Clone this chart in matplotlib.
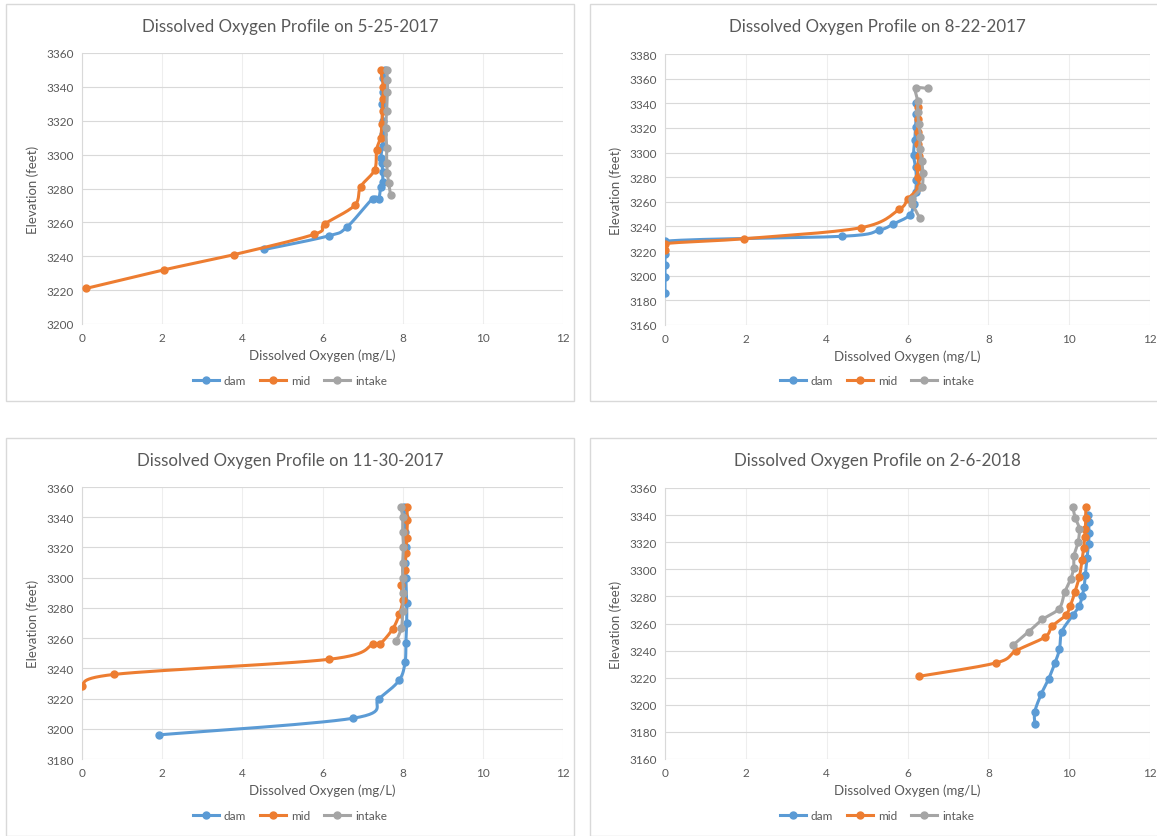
import numpy as np
from matplotlib import pyplot as plt
from matplotlib.patches import Rectangle

plt.rcParams['font.family'] = ['Lato', 'DejaVu Sans']

W, H = 1157, 837

#  ---------------------------------------  data  ---------------------------------------  #

titles = ["Dissolved Oxygen Profile on 5-25-2017", "Dissolved Oxygen Profile on 8-22-2017",
          "Dissolved Oxygen Profile on 11-30-2017", "Dissolved Oxygen Profile on 2-6-2018"]
series_names = ["dam", "mid", "intake"]

# 5-25-2017
dam1_elev = [3244, 3252, 3257, 3274, 3274, 3281, 3284, 3290, 3295, 3298, 3305, 3312, 3320, 3330, 3337, 3345, 3350]
dam1_do = [4.55, 6.15, 6.6, 7.25, 7.4, 7.45, 7.5, 7.5, 7.48, 7.45, 7.5, 7.52, 7.5, 7.48, 7.5, 7.52, 7.55]
mid1_elev = [3221, 3232, 3241, 3253, 3259, 3270, 3281, 3291, 3303, 3310, 3318, 3326, 3333, 3340, 3350]
mid1_do = [0.1, 2.05, 3.8, 5.8, 6.05, 6.8, 6.95, 7.3, 7.35, 7.45, 7.48, 7.5, 7.5, 7.52, 7.45]
int1_elev = [3276, 3283, 3289, 3295, 3304, 3316, 3326, 3337, 3344, 3350]
int1_do = [7.7, 7.65, 7.62, 7.6, 7.6, 7.58, 7.6, 7.62, 7.62, 7.6]

# 8-22-2017
dam2_elev = [3186, 3199, 3209, 3218, 3228, 3232, 3237, 3242, 3249, 3258, 3268, 3278, 3288, 3298, 3310, 3321, 3331, 3340]
dam2_do = [0, 0, 0, 0, 0, 4.38, 5.3, 5.65, 6.05, 6.15, 6.2, 6.22, 6.2, 6.15, 6.18, 6.2, 6.22, 6.22]
mid2_elev = [3221, 3226, 3230, 3239, 3254, 3262, 3272, 3280, 3288, 3297, 3307, 3317, 3327, 3337]
mid2_do = [0, 0, 1.95, 4.85, 5.8, 6.0, 6.28, 6.25, 6.25, 6.28, 6.27, 6.25, 6.25, 6.25]
int2_elev = [3247, 3258, 3262, 3272, 3283, 3293, 3303, 3313, 3323, 3333, 3342, 3352, 3352]
int2_do = [6.3, 6.12, 6.1, 6.35, 6.38, 6.35, 6.3, 6.32, 6.28, 6.25, 6.25, 6.2, 6.5]

# 11-30-2017
dam3_elev = [3196, 3207, 3220, 3232, 3244, 3257, 3270, 3283, 3300, 3310, 3320, 3330, 3340, 3347]
dam3_do = [1.93, 6.77, 7.41, 7.91, 8.06, 8.08, 8.1, 8.1, 8.08, 8.07, 8.08, 8.06, 8.05, 8.03]
mid3_elev = [3228, 3236, 3246, 3256, 3256, 3266, 3276, 3285, 3295, 3305, 3316, 3326, 3338, 3347]
mid3_do = [0, 0.81, 6.17, 7.27, 7.43, 7.75, 7.92, 8.0, 7.97, 8.05, 8.08, 8.1, 8.12, 8.1]
int3_elev = [3258, 3267, 3278, 3290, 3300, 3310, 3320, 3330, 3340, 3347]
int3_do = [7.84, 7.97, 8.0, 8.02, 8.0, 8.0, 8.02, 8.0, 8.0, 7.95]

# 2-6-2018
dam4_elev = [3186, 3195, 3208, 3219, 3231, 3241, 3254, 3266, 3273, 3280, 3287, 3296, 3308, 3319, 3327, 3335, 3340]
dam4_do = [9.15, 9.15, 9.31, 9.49, 9.65, 9.76, 9.82, 10.09, 10.25, 10.32, 10.37, 10.4, 10.44, 10.48, 10.49, 10.48, 10.46]
mid4_elev = [3221, 3231, 3240, 3250, 3258, 3266, 3273, 3283, 3294, 3307, 3316, 3324, 3330, 3338, 3346]
mid4_do = [6.28, 8.2, 8.69, 9.4, 9.58, 9.91, 10.03, 10.14, 10.25, 10.32, 10.36, 10.38, 10.4, 10.41, 10.41]
int4_elev = [3244, 3254, 3263, 3271, 3283, 3293, 3301, 3310, 3320, 3330, 3338, 3346]
int4_do = [8.61, 9.0, 9.34, 9.75, 9.89, 10.04, 10.11, 10.12, 10.22, 10.25, 10.15, 10.09]

y_ranges = [(3200, 3360), (3160, 3380), (3180, 3360), (3160, 3360)]

panels = [
    [(dam1_do, dam1_elev), (mid1_do, mid1_elev), (int1_do, int1_elev)],
    [(dam2_do, dam2_elev), (mid2_do, mid2_elev), (int2_do, int2_elev)],
    [(dam3_do, dam3_elev), (mid3_do, mid3_elev), (int3_do, int3_elev)],
    [(dam4_do, dam4_elev), (mid4_do, mid4_elev), (int4_do, int4_elev)],
]

colors = ['#5B9BD5', '#ED7D31', '#A5A5A5']
txt = '#595959'

#  ---------------------------------------  layout  ---------------------------------------  #

# pixel boxes: (left, right, top, bottom)
ax_px = [(82, 563, 54, 325), (665, 1150, 55, 326), (82, 563, 488, 760), (665, 1150, 489, 760)]
frame_px = [(6, 574, 5, 402), (590, 1164, 5, 402), (6, 574, 439, 837), (590, 1164, 439, 837)]


def smooth(ax, x, y, n=16):
    # Excel-like smoothed line: Catmull-Rom style bezier in display space
    P = ax.transData.transform(np.column_stack([x, y]))
    if len(P) < 3:
        return x, y
    ext = np.vstack([P[0], P, P[-1]])
    out = []
    t = np.linspace(0, 1, n)[:, None]
    for i in range(len(P) - 1):
        p0, p1, p2, p3 = ext[i], ext[i + 1], ext[i + 2], ext[i + 3]
        c1 = p1 + (p2 - p0) / 6
        c2 = p2 - (p3 - p1) / 6
        seg = (1 - t)**3 * p1 + 3 * (1 - t)**2 * t * c1 + 3 * (1 - t) * t**2 * c2 + t**3 * p2
        out.append(seg if i == 0 else seg[1:])
    out = ax.transData.inverted().transform(np.vstack(out))
    return out[:, 0], out[:, 1]


fig = plt.figure(figsize=(W / 100, H / 100), dpi=100)

for k in range(4):
    fl, fr, ft, fb = frame_px[k]
    fig.patches.append(Rectangle((fl / W, 1 - fb / H), (fr - fl) / W, (fb - ft) / H,
                                 transform=fig.transFigure, fill=False, edgecolor='#d9d9d9', lw=1))

    l, r, t, b = ax_px[k]
    ax = fig.add_axes([l / W, 1 - b / H, (r - l) / W, (b - t) / H])
    y0, y1 = y_ranges[k]
    ax.set_xlim(0, 12)
    ax.set_ylim(y0, y1)
    ax.set_xticks(np.arange(0, 13, 2))
    ax.set_yticks(np.arange(y0, y1 + 1, 20))
    ax.tick_params(length=0, labelsize=8.5, colors=txt, pad=6)
    for s in ['top', 'right', 'bottom']:
        ax.spines[s].set_visible(False)
    ax.spines['left'].set_color('#d9d9d9')
    ax.grid(axis='y', color='#d9d9d9', lw=0.8)
    ax.grid(axis='x', color='#eeeeee', lw=0.8)
    ax.set_axisbelow(True)

    ax.set_xlabel("Dissolved Oxygen (mg/L)", fontsize=9.5, color=txt, labelpad=4)
    ax.set_ylabel("Elevation (feet)", fontsize=9.5, color=txt, labelpad=5)

    for j, (xd, yd) in enumerate(panels[k]):
        sx, sy = smooth(ax, xd, yd)
        ax.plot(sx, sy, '-', c=colors[j], lw=2.2, zorder=3 + j)
        ax.plot(xd, yd, 'o', c=colors[j], ms=5, zorder=3 + j, label=series_names[j])

    fig.text((fl + fr) / 2 / W, 1 - (ft + 22) / H, titles[k], ha='center', va='center',
             fontsize=12.2, color=txt)

    handles = [plt.Line2D([], [], c=colors[j], lw=2.2, marker='o', ms=5) for j in range(3)]
    fig.legend(handles, series_names, loc='center', ncol=3, frameon=False, fontsize=8.5,
               labelcolor=txt, bbox_to_anchor=((fl + fr) / 2 / W, 1 - (fb - 20) / H),
               handlelength=2.2, columnspacing=1.2, handletextpad=0.4)

fig.savefig("out.png", dpi=100, facecolor='white')
